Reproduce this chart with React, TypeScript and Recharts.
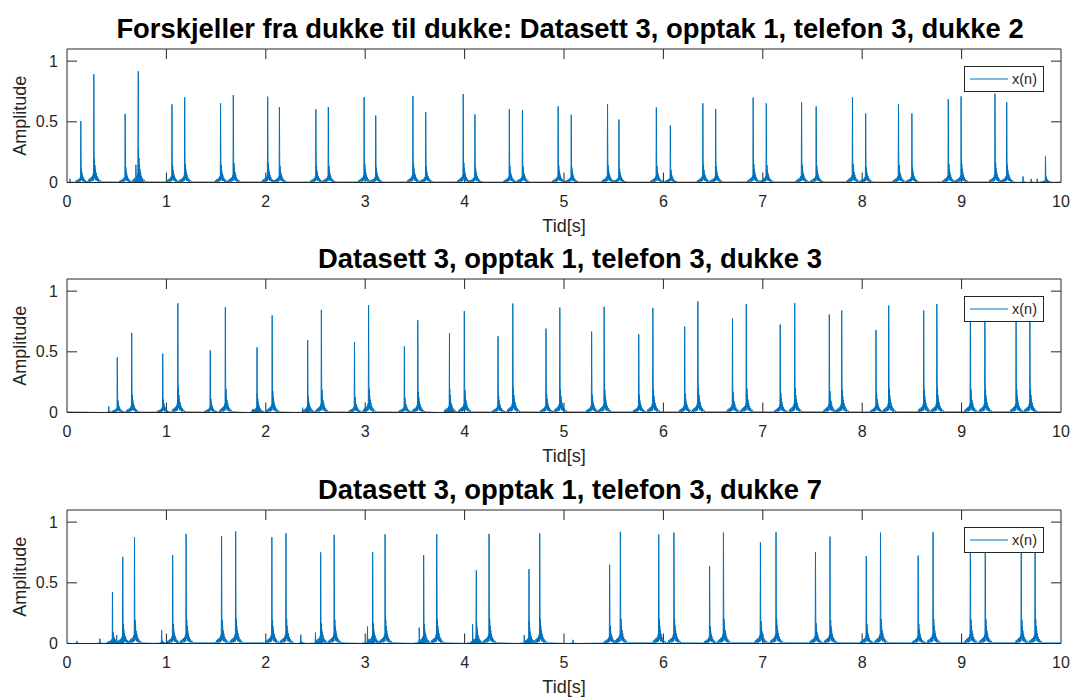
import { LineChart, Line, XAxis, YAxis, ReferenceLine, Legend } from 'recharts';

const LINE_BLUE = '#0072BD';
const AXIS_GREY = '#262626';
const FONT = "'Liberation Sans', Arial, Helvetica, sans-serif";

const X_TICKS = [0, 1, 2, 3, 4, 5, 6, 7, 8, 9, 10];
const Y_TICKS = [0, 0.5, 1];
const Y_MAX = 1.1;

// Dukke 2: main hits (s) and their peak amplitude
const doll2Times = [0.139, 0.27, 0.585, 0.717, 1.056, 1.184, 1.545, 1.673, 2.019, 2.137, 2.504, 2.629, 2.989, 3.106, 3.48, 3.609, 3.986, 4.104, 4.45, 4.582, 4.941, 5.073, 5.438, 5.553, 5.929, 6.07, 6.397, 6.526, 6.903, 7.035, 7.39, 7.537, 7.902, 8.035, 8.365, 8.5, 8.866, 8.995, 9.336, 9.454, 9.844];
const doll2Peaks = [0.506, 0.892, 0.566, 0.917, 0.644, 0.702, 0.652, 0.721, 0.707, 0.622, 0.602, 0.622, 0.704, 0.552, 0.713, 0.58, 0.729, 0.561, 0.605, 0.597, 0.627, 0.558, 0.644, 0.519, 0.619, 0.47, 0.652, 0.605, 0.699, 0.652, 0.66, 0.627, 0.702, 0.569, 0.644, 0.569, 0.685, 0.71, 0.732, 0.663, 0.215];
const doll2MinorTimes = [0.03, 0.693, 9.618, 9.7, 9.76];
const doll2MinorPeaks = [0.03, 0.146, 0.05, 0.03, 0.03];

// Dukke 3
const doll3Times = [0.506, 0.651, 0.963, 1.115, 1.441, 1.593, 1.912, 2.064, 2.421, 2.559, 2.892, 3.034, 3.394, 3.529, 3.848, 3.997, 4.336, 4.485, 4.819, 4.958, 5.278, 5.404, 5.752, 5.894, 6.214, 6.347, 6.695, 6.834, 7.175, 7.321, 7.669, 7.794, 8.139, 8.267, 8.619, 8.751, 9.088, 9.234, 9.548, 9.687];
const doll3Peaks = [0.455, 0.656, 0.485, 0.9, 0.512, 0.868, 0.537, 0.8, 0.595, 0.846, 0.578, 0.884, 0.545, 0.76, 0.653, 0.835, 0.628, 0.898, 0.691, 0.865, 0.667, 0.871, 0.645, 0.862, 0.708, 0.915, 0.774, 0.893, 0.725, 0.901, 0.807, 0.84, 0.68, 0.882, 0.84, 0.893, 0.86, 0.88, 0.87, 0.89];
const doll3MinorTimes = [0.42, 1.87, 2.37, 3.81];
const doll3MinorPeaks = [0.05, 0.03, 0.04, 0.03];

// Dukke 7
const doll7Times = [0.457, 0.561, 0.679, 1.063, 1.198, 1.555, 1.697, 2.061, 2.203, 2.552, 2.688, 3.075, 3.2, 3.588, 3.72, 4.118, 4.246, 4.648, 4.756, 5.459, 5.567, 5.953, 6.106, 6.465, 6.604, 6.976, 7.133, 7.53, 7.676, 8.041, 8.184, 8.563, 8.713, 9.088, 9.238, 9.6, 9.739];
const doll7Peaks = [0.425, 0.713, 0.876, 0.729, 0.903, 0.884, 0.923, 0.876, 0.909, 0.751, 0.895, 0.754, 0.9, 0.729, 0.9, 0.602, 0.903, 0.613, 0.906, 0.649, 0.92, 0.898, 0.914, 0.635, 0.914, 0.834, 0.917, 0.754, 0.881, 0.721, 0.914, 0.724, 0.917, 0.9, 0.9, 0.88, 0.9];
const doll7MinorTimes = [0.1, 0.33, 0.5, 0.952, 2.352, 2.5, 3.023, 3.543, 4.08, 4.6, 5.09];
const doll7MinorPeaks = [0.02, 0.04, 0.07, 0.11, 0.072, 0.09, 0.14, 0.13, 0.16, 0.07, 0.03];

// shape of one hit: [time offset (s), fraction of the peak]
const PULSE: [number, number][] = [
  [-0.06, 0.005], [-0.05, 0.03], [-0.045, 0.005], [-0.038, 0.04], [-0.032, 0.01],
  [-0.026, 0.05], [-0.02, 0.01], [-0.015, 0.06], [-0.011, 0.015], [-0.007, 0.08],
  [-0.003, 0.02], [0, 1],
  [0.003, 0.3], [0.005, 0.05], [0.007, 0.22], [0.009, 0.04], [0.011, 0.16], [0.014, 0.03],
  [0.017, 0.12], [0.02, 0.02], [0.024, 0.09], [0.028, 0.02], [0.033, 0.06], [0.038, 0.01],
  [0.044, 0.04], [0.05, 0.008], [0.058, 0.025], [0.07, 0.005],
];

type Pt = { t: number; v: number };

function buildSignal(times: number[], peaks: number[], minorT: number[], minorP: number[]): Pt[] {
  const pts: Pt[] = [{ t: 0, v: 0.004 }, { t: 10, v: 0.004 }];
  const add = (ts: number[], ps: number[]) =>
    ts.forEach((t, i) =>
      PULSE.forEach(([dt, f]) => {
        const x = t + dt;
        if (x >= 0 && x <= 10) pts.push({ t: x, v: f * ps[i] });
      }),
    );
  add(times, peaks);
  add(minorT, minorP);
  return pts.sort((a, b) => a.t - b.t);
}

const PLOT_W = 994;
const PLOT_H = 133.5;
const TICK_PX = 10;

function boxTicks() {
  const dx = (10 / PLOT_W) * TICK_PX;
  const dy = (Y_MAX / PLOT_H) * TICK_PX;
  const els = [
    <ReferenceLine key="top" y={Y_MAX} stroke={AXIS_GREY} />,
    <ReferenceLine key="right" x={10} stroke={AXIS_GREY} />,
  ];
  X_TICKS.slice(1, -1).forEach((t) => {
    els.push(<ReferenceLine key={`xb${t}`} segment={[{ x: t, y: 0 }, { x: t, y: dy }]} stroke={AXIS_GREY} />);
    els.push(<ReferenceLine key={`xt${t}`} segment={[{ x: t, y: Y_MAX }, { x: t, y: Y_MAX - dy }]} stroke={AXIS_GREY} />);
  });
  Y_TICKS.slice(1).forEach((v) => {
    els.push(<ReferenceLine key={`yl${v}`} segment={[{ x: 0, y: v }, { x: dx, y: v }]} stroke={AXIS_GREY} />);
    els.push(<ReferenceLine key={`yr${v}`} segment={[{ x: 10, y: v }, { x: 10 - dx, y: v }]} stroke={AXIS_GREY} />);
  });
  return els;
}

const SignalKey = (props: any) => {
  const item = props.payload?.[0];
  return (
    <div
      style={{
        width: 80, height: 26, boxSizing: 'border-box', border: `1px solid ${AXIS_GREY}`,
        background: '#fff', display: 'flex', alignItems: 'center', fontFamily: FONT,
        fontSize: 14.5, color: AXIS_GREY,
      }}
    >
      <svg width={47} height={10} style={{ display: 'block' }}>
        <line x1={5} x2={43} y1={5} y2={5} stroke={item?.color ?? LINE_BLUE} strokeWidth={1} />
      </svg>
      <span>{item?.value ?? 'x(n)'}</span>
    </div>
  );
};

const CHART_H = 237;

function Panel({ data, title, top }: { data: Pt[]; title: string; top: number }) {
  return (
    <div style={{ position: 'absolute', left: 0, top, width: 1073, height: CHART_H }}>
      <div
        style={{
          position: 'absolute', left: 73, width: PLOT_W, top: 15, textAlign: 'center',
          fontFamily: FONT, fontWeight: 'bold', fontSize: 27.4, lineHeight: '27px', color: '#000',
          whiteSpace: 'nowrap',
        }}
      >
        {title}
      </div>
      <LineChart width={1073} height={CHART_H} data={data} margin={{ top: 49, right: 12, bottom: 0, left: 0 }}>
        <XAxis
          dataKey="t" type="number" domain={[0, 10]} ticks={X_TICKS} allowDataOverflow
          tickLine={false} tickSize={0} tickMargin={13.5}
          axisLine={{ stroke: AXIS_GREY }} height={CHART_H - 49 - PLOT_H}
          tick={{ fill: AXIS_GREY, fontSize: 16, fontFamily: FONT }}
          label={{ value: 'Tid[s]', position: 'insideBottom', offset: 5, fill: AXIS_GREY, fontSize: 18, fontFamily: FONT }}
        />
        <YAxis
          type="number" domain={[0, Y_MAX]} ticks={Y_TICKS} allowDataOverflow width={67}
          tickLine={false} tickSize={0} tickMargin={9}
          axisLine={{ stroke: AXIS_GREY }}
          tick={{ fill: AXIS_GREY, fontSize: 16, fontFamily: FONT }}
          tickFormatter={(v: number) => String(v)}
          label={{
            value: 'Amplitude', angle: -90, position: 'insideLeft', offset: 20,
            fill: AXIS_GREY, fontSize: 18, fontFamily: FONT, style: { textAnchor: 'middle' },
          }}
        />
        {boxTicks()}
        <Line
          dataKey="v" name="x(n)" type="linear" stroke={LINE_BLUE} strokeWidth={1}
          dot={false} activeDot={false} isAnimationActive={false}
        />
        <Legend
          layout="horizontal" verticalAlign="middle" align="center"
          content={<SignalKey />}
          wrapperStyle={{ top: 66, left: 964, right: 'auto', bottom: 'auto', width: 80, height: 26 }}
        />
      </LineChart>
    </div>
  );
}

const doll2 = buildSignal(doll2Times, doll2Peaks, doll2MinorTimes, doll2MinorPeaks);
const doll3 = buildSignal(doll3Times, doll3Peaks, doll3MinorTimes, doll3MinorPeaks);
const doll7 = buildSignal(doll7Times, doll7Peaks, doll7MinorTimes, doll7MinorPeaks);

export default function App() {
  return (
    <div style={{ position: 'absolute', left: 0, top: 0, width: 1073, height: 698, background: '#fff' }}>
      <Panel data={doll2} top={0} title="Forskjeller fra dukke til dukke: Datasett 3, opptak 1, telefon 3, dukke 2" />
      <Panel data={doll3} top={230} title="Datasett 3, opptak 1, telefon 3, dukke 3" />
      <Panel data={doll7} top={461} title="Datasett 3, opptak 1, telefon 3, dukke 7" />
    </div>
  );
}
